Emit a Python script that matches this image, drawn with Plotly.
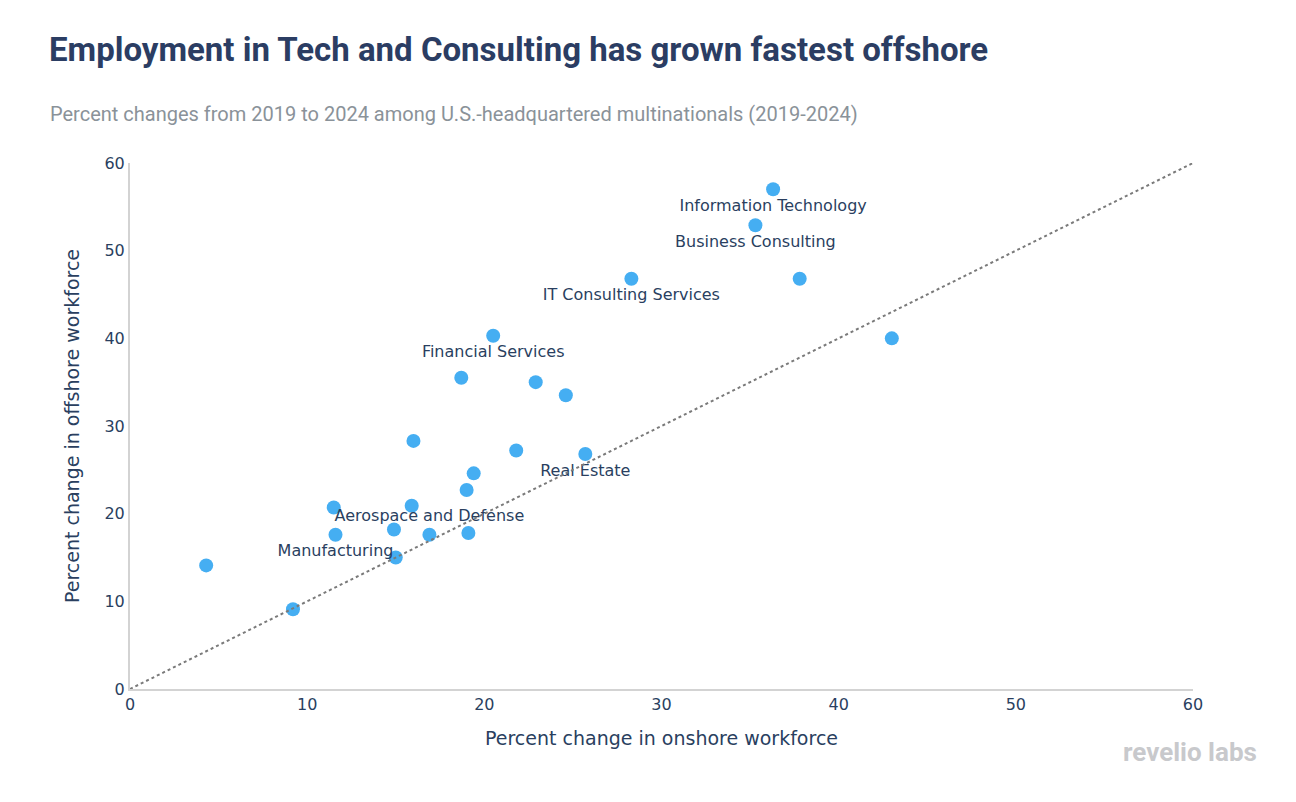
import plotly.graph_objects as go

onshore = [36.3, 35.3, 37.8, 28.3, 43.0, 20.5, 18.7, 22.9, 24.6, 16.0, 21.8, 25.7,
           19.4, 19.0, 11.5, 15.9, 14.9, 11.6, 16.9, 19.1, 15.0, 4.3, 9.2]
offshore = [57.0, 52.9, 46.8, 46.8, 40.0, 40.3, 35.5, 35.0, 33.5, 28.3, 27.2, 26.8,
            24.6, 22.7, 20.7, 20.9, 18.2, 17.6, 17.6, 17.8, 15.0, 14.1, 9.1]
labels = ["Information Technology", "Business Consulting", "", "IT Consulting Services", "",
          "Financial Services", "", "", "", "", "", "Real Estate",
          "", "", "", "", "", "Manufacturing", "Aerospace and Defense", "", "", "", ""]
label_pos = ["bottom center"] * len(labels)
label_pos[18] = "top center"

parity_x = [0, 60]
parity_y = [0, 60]

fig = go.Figure()
fig.add_trace(go.Scatter(
    x=onshore, y=offshore, mode="markers+text", text=labels,
    textposition=label_pos,
    textfont=dict(family="Verdana, DejaVu Sans, sans-serif", size=16, color="#2a3f5f"),
    marker=dict(size=14, color="#45aef2"),
    hoverinfo="skip", showlegend=False, cliponaxis=False))
fig.add_trace(go.Scatter(
    x=parity_x, y=parity_y, mode="lines",
    line=dict(color="#7a7a7a", width=2, dash="dot"),
    hoverinfo="skip", showlegend=False))

fig.update_layout(
    width=1296, height=802,
    margin=dict(l=130, r=103, t=163, b=113),
    paper_bgcolor="white", plot_bgcolor="white",
    font=dict(family="Verdana, DejaVu Sans, sans-serif", size=16, color="#2a3f5f"),
    title=dict(text="<b>Employment in Tech and Consulting has grown fastest offshore</b>",
               x=49/1296, xanchor="left", xref="container",
               y=1-49/802, yanchor="middle", yref="container",
               font=dict(family="Roboto", size=33, color="#2b3d63")),
    xaxis=dict(range=[0, 60], dtick=10, showgrid=False, zeroline=False,
               showline=True, linecolor="#d3d3d3", linewidth=2,
               title=dict(text="Percent change in onshore workforce", font=dict(size=19), standoff=18),
               tickfont=dict(size=16)),
    yaxis=dict(range=[0, 60], dtick=10, showgrid=False, zeroline=False,
               showline=True, linecolor="#d3d3d3", linewidth=2,
               title=dict(text="Percent change in offshore workforce", font=dict(size=19), standoff=20),
               tickfont=dict(size=16)),
    annotations=[
        dict(text="Percent changes from 2019 to 2024 among U.S.-headquartered multinationals (2019-2024)",
             xref="paper", yref="paper", x=(48-130)/1063, y=(689-114)/526,
             xanchor="left", yanchor="middle", showarrow=False,
             font=dict(family="Roboto", size=20, color="#8a9299")),
        dict(text="<b>revelio labs</b>", xref="paper", yref="paper",
             x=(1259-130)/1063, y=(689-752)/526, xanchor="right", yanchor="middle",
             showarrow=False, font=dict(family="Roboto", size=26, color="#c8c9cc")),
    ],
)

fig.write_html("out.html")
